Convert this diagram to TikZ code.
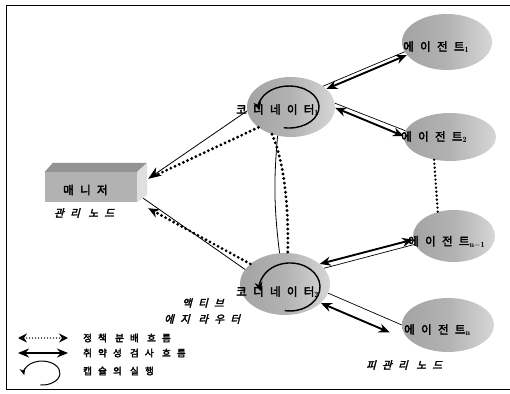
\documentclass[tikz,border=0pt]{standalone}
\usepackage{fontspec}
\newfontfamily\krb{Noto Sans CJK KR}[FakeBold=3,LetterSpace=55]
\newfontfamily\kri{Noto Sans CJK KR}[FakeBold=2.5,FakeSlant=0.25,LetterSpace=60]
\newfontfamily\krl{Noto Sans CJK KR}[FakeBold=3,LetterSpace=65]
\usetikzlibrary{shapes.geometric,arrows.meta,calc}

\begin{document}
\begin{tikzpicture}[x=1pt,y=1pt,
  blob/.style={ellipse, draw=none, inner sep=0pt,
    left color=gray!72, right color=gray!32, middle color=gray!60},
  ntext/.style={anchor=west, inner sep=0pt, font=\krb\fontsize{11.5}{13}\selectfont},
  itag/.style={anchor=west, inner sep=0pt, font=\kri\fontsize{10.5}{12}\selectfont},
  legtext/.style={anchor=west, inner sep=0pt, font=\krl\fontsize{9.5}{11}\selectfont},
  vflow/.style={line width=1.9pt, {Stealth[length=11pt,width=9pt]}-{Stealth[length=11pt,width=9pt]}},
  vthin/.style={line width=0.7pt},
  dotflow/.style={line width=3.2pt, line cap=round, dash pattern=on 0pt off 4.6pt},
  smalldots/.style={line width=2.6pt, line cap=round, dash pattern=on 0pt off 4pt},
  loopflow/.style={line width=1.4pt, -{Stealth[length=9pt,width=8pt]}},
  link/.style={line width=0.8pt}
]
\useasboundingbox (0,0) rectangle (510,393);

% frame
\draw[line width=0.9pt] (510,388) -- (6,388) -- (6,4) -- (510,4);

% manager box (front, top and side faces)
\node[fill=gray!60, minimum width=92pt, minimum height=30pt, inner sep=0pt] (m) at (91,206) {};
\fill[gray!85] (m.north west) -- ++(8,9) -- ++(94,0) -- (m.north east) -- cycle;
\fill[gray!25] (m.north east) -- ++(10,9) -- ++(0,-32) -- (m.south east) -- cycle;
\node[ntext] (mt) at (63,203) {매니저};
\node[itag] (mlab) at (54,180) {관리 노드};

% coordinators
\node[blob, minimum width=88pt, minimum height=60pt] (c1) at (291,286) {};
\node[blob, minimum width=90pt, minimum height=62pt] (c2) at (285,109) {};

% agents
\node[blob, minimum width=90pt, minimum height=56pt] (a1) at (447,351) {};
\node[blob, minimum width=92pt, minimum height=48pt] (a2) at (450,256) {};
\node[blob, minimum width=82pt, minimum height=52pt] (an1) at (454,157) {};
\node[blob, minimum width=92pt, minimum height=54pt] (an) at (448,68) {};

% capsule execution loops inside the coordinators
\draw[loopflow] ($(c1)+(-7.2,-20.7)$) arc[start angle=-100, end angle=190, x radius=30, y radius=21];
\draw[loopflow] ($(c2)+(-0.2,-26.6)$) arc[start angle=-100, end angle=190, x radius=30, y radius=24];

% labels
\node[ntext] (c1t) at (236,283) {코디네이터${}_{\mathbf{1}}$};
\node[ntext] (c2t) at (236,101) {코디네이터${}_{\mathbf{2}}$};
\node[ntext] (a1t) at (403,346) {에이전트${}_{\mathbf{1}}$};
\node[ntext] (a2t) at (401,256) {에이전트${}_{\mathbf{2}}$};
\node[ntext] (an1t) at (408,151) {에이전트${}_{\mathbf{n-1}}$};
\node[ntext] (ant) at (404,63) {에이전트${}_{\mathbf{n}}$};
\node[itag] (aer1) at (182,90) {액티브};
\node[itag] (aer2) at (164,74) {에지 라우터};
\node[itag] (mng) at (366,28) {피관리 노드};

% attachment points on the manager box
\coordinate (mside) at ($(m.north east)+(11,-7)$);
\coordinate (mbot) at ($(m.south east)+(11,-6)$);
\coordinate (mcorner) at ($(m.south east)+(6,4)$);

% coordinators to manager
\draw[link, -{Stealth[length=13pt,width=10pt]}] (c1.185) -- (mside);
\draw[dotflow, shorten >=11pt] (c1.212) -- (mside);
\draw[dotflow, -{Stealth[length=11pt,width=9pt]}] (c2.150) -- (mbot);
\draw[link] (mcorner) -- (c2.160);

% coordinator 1 to coordinator 2
\draw[link] (c1.245) to[bend right=6] (c2.100);
\draw[dotflow] (c1.235) .. controls (283,235) and (289,190) .. (c2.85);

% more agents
\draw[smalldots] (a2.235) -- (an1.124);

% vulnerability check flows
\draw[vflow] (c1.27) -- (a1.198);
\draw[vthin] (c1.33) -- (a1.193);
\draw[vflow] (c1.-1) -- (a2.179);
\draw[vthin] (c1.5) -- (a2.172);
\draw[vflow] (c2.30) -- (an1.185);
\draw[vthin] (c2.22) -- (an1.192);
\draw[vflow, shorten >=24pt] (c2.-28) -- (an.205);
\draw[vthin] (c2.-12) -- (an.180);

% legend
\coordinate (l1a) at (18,55); \coordinate (l1b) at (68,55);
\coordinate (l2a) at (18,40); \coordinate (l2b) at (68,40);
\coordinate (l3) at (40.4,8);
\draw[line width=1.5pt, line cap=round, dash pattern=on 0pt off 3pt,
  {Stealth[open,length=9pt,width=9pt,line width=1.8pt]}-{Stealth[open,length=9pt,width=9pt,line width=1.8pt]}] (l1a) -- (l1b);
\draw[vflow] (l2a) -- (l2b);
\draw[line width=1pt, -{Stealth[length=7pt,width=6pt]}] (l3) arc[start angle=-95, end angle=190, x radius=18, y radius=12];
\node[legtext] (lg1) at (83,55) {정책 분배 흐름};
\node[legtext] (lg2) at (83,40) {취약성 검사 흐름};
\node[legtext] (lg3) at (83,22) {캡슐의 실행};
\end{tikzpicture}
\end{document}
